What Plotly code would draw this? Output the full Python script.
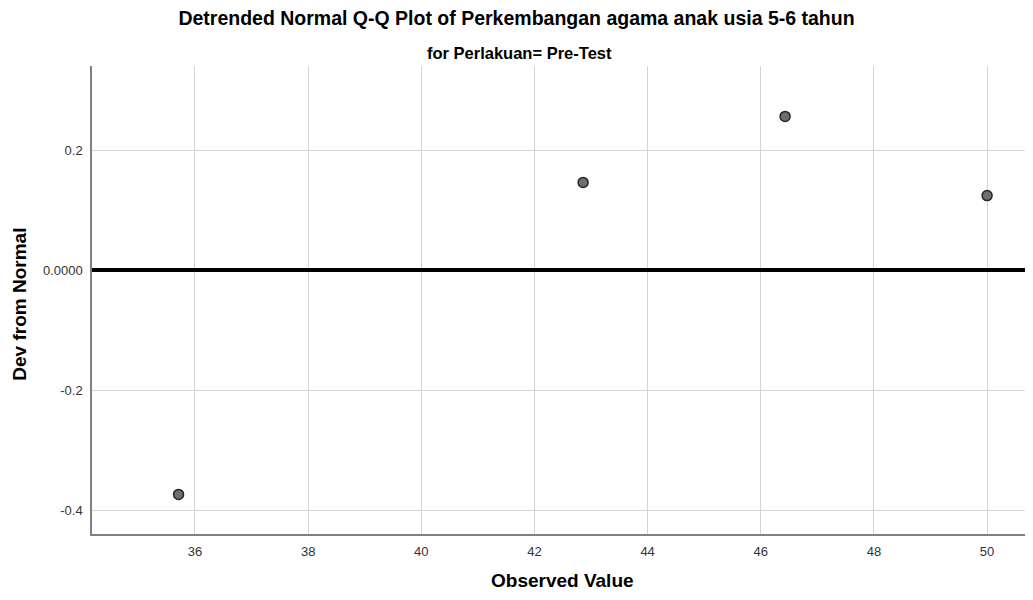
import plotly.graph_objects as go

observed = [35.71, 42.86, 46.43, 50.0]
dev_from_normal = [-0.374, 0.146, 0.256, 0.124]
y_tick_vals = [0.2, 0.0, -0.2, -0.4]
y_tick_text = ["0.2", "0.0000", "-0.2", "-0.4"]
x_tick_vals = [36, 38, 40, 42, 44, 46, 48, 50]

FONT = "Liberation Sans, Arial, sans-serif"

fig = go.Figure()
fig.add_trace(go.Scatter(
    x=observed, y=dev_from_normal, mode="markers",
    marker=dict(size=10, color="#6e6e6e", line=dict(color="#262626", width=1.5)),
    showlegend=False, hoverinfo="x+y",
))

fig.add_shape(type="line", xref="paper", yref="y", x0=0, x1=1, y0=0, y1=0,
              line=dict(color="black", width=4), layer="above")

fig.update_layout(
    width=1017, height=584,
    margin=dict(l=84, r=0, t=58, b=58, autoexpand=False),
    paper_bgcolor="white", plot_bgcolor="white",
    font=dict(family=FONT, color="#222222"),
    title=dict(text="<b>Detrended Normal Q-Q Plot of Perkembangan agama anak usia 5-6 tahun</b>",
               x=0.5, xanchor="center", y=1 - 10 / 584, yanchor="middle",
               font=dict(size=19.5, color="black", family=FONT)),
    annotations=[
        dict(text="<b>for Perlakuan= Pre-Test</b>", xref="paper", yref="paper",
             x=0.4587, xanchor="center", y=1.0, yshift=13, yanchor="middle",
             showarrow=False, font=dict(size=16.5, color="black", family=FONT)),
        dict(text="<b>Observed Value</b>", xref="paper", yref="paper",
             x=0.504, xanchor="center", y=0.0, yshift=-46, yanchor="middle",
             showarrow=False, font=dict(size=19, color="black", family=FONT)),
        dict(text="<b>Dev from Normal</b>", xref="paper", yref="paper",
             x=0.0, xshift=-72, xanchor="center", y=0.49, yanchor="middle",
             textangle=-90, showarrow=False, font=dict(size=19, color="black", family=FONT)),
    ],
    xaxis=dict(range=[34.18, 50.67], tickvals=x_tick_vals, showgrid=True,
               gridcolor="#d4d4d4", gridwidth=1.2, zeroline=False,
               showline=True, linecolor="#808080", linewidth=1.5, mirror=False,
               ticks="", ticklabelstandoff=5, tickfont=dict(size=13, color="#333333")),
    yaxis=dict(range=[-0.44, 0.34], tickvals=y_tick_vals, ticktext=y_tick_text,
               showgrid=True, gridcolor="#d4d4d4", gridwidth=1.2, zeroline=False,
               showline=True, linecolor="#808080", linewidth=1.5, mirror=False,
               ticks="", ticklabelstandoff=5, tickfont=dict(size=13, color="#333333")),
)

fig.write_html("out.html")
